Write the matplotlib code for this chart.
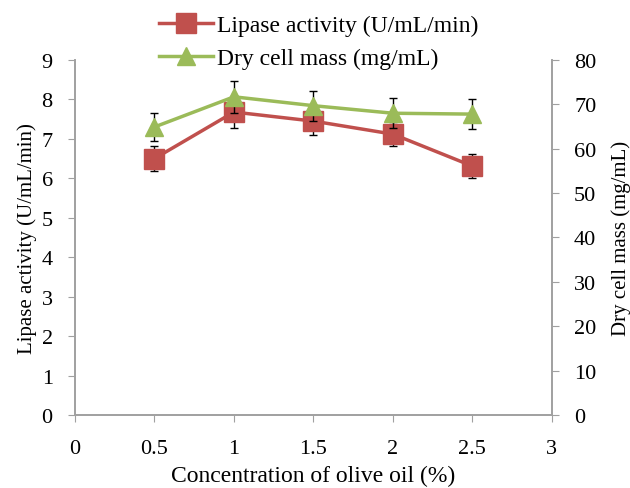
import matplotlib.pyplot as plt
from matplotlib.lines import Line2D

plt.rcParams['font.family'] = ['Liberation Serif', 'DejaVu Serif']
plt.rcParams['font.size'] = 16

# data
conc = [0.5, 1, 1.5, 2, 2.5]
lipase = [6.5, 7.68, 7.45, 7.12, 6.31]
lipase_err = [0.32, 0.4, 0.35, 0.3, 0.3]
dcm = [64.9, 71.7, 69.7, 68, 67.8]
dcm_err = [3.2, 3.6, 3.4, 3.4, 3.4]

red = '#C0504D'
green = '#9BBB59'

fig = plt.figure(figsize=(6.3, 4.89), dpi=100)
ax = fig.add_axes([0.119, 0.1493, 0.757, 0.726])
ax2 = ax.twinx()

ax.errorbar(conc, lipase, yerr=lipase_err, color=red, lw=2.5, marker='s',
            markersize=14, ecolor='black', elinewidth=1, capsize=3, capthick=1,
            zorder=3)
ax2.errorbar(conc, dcm, yerr=dcm_err, color=green, lw=2.5, marker='^',
             markersize=13, ecolor='black', elinewidth=1, capsize=3, capthick=1,
             zorder=3)

ax.set_xlim(0, 3)
ax.set_ylim(0, 9)
ax2.set_ylim(0, 80)
ax.set_xticks([0, 0.5, 1, 1.5, 2, 2.5, 3])
ax.set_xticklabels(['0', '0.5', '1', '1.5', '2', '2.5', '3'])
ax.set_yticks(range(0, 10))
ax2.set_yticks(range(0, 81, 10))

for a in (ax, ax2):
    a.spines['top'].set_visible(False)
    for s in ('left', 'right', 'bottom'):
        a.spines[s].set_color('#a0a0a0')
        a.spines[s].set_linewidth(1.2)
    a.tick_params(direction='out', length=5, color='#a0a0a0', labelsize=16, pad=11)
ax.tick_params(axis='x', pad=12)

ax.set_xlabel('Concentration of olive oil (%)', fontsize=17, labelpad=5)
ax.set_ylabel('Lipase activity (U/mL/min)', fontsize=15, labelpad=3)
ax2.set_ylabel('Dry cell mass (mg/mL)', fontsize=15, labelpad=11)

h1 = Line2D([], [], color=red, lw=2.5, marker='s', markersize=14)
h2 = Line2D([], [], color=green, lw=2.5, marker='^', markersize=13)
fig.legend([h1, h2], ['Lipase activity (U/mL/min)', 'Dry cell mass (mg/mL)'],
           loc='upper left', bbox_to_anchor=(0.245, 0.978), frameon=False,
           borderpad=0.2, borderaxespad=0,
           fontsize=17, handlelength=2.3, labelspacing=0.5, handletextpad=0.17)

fig.savefig('out.png', dpi=100)
